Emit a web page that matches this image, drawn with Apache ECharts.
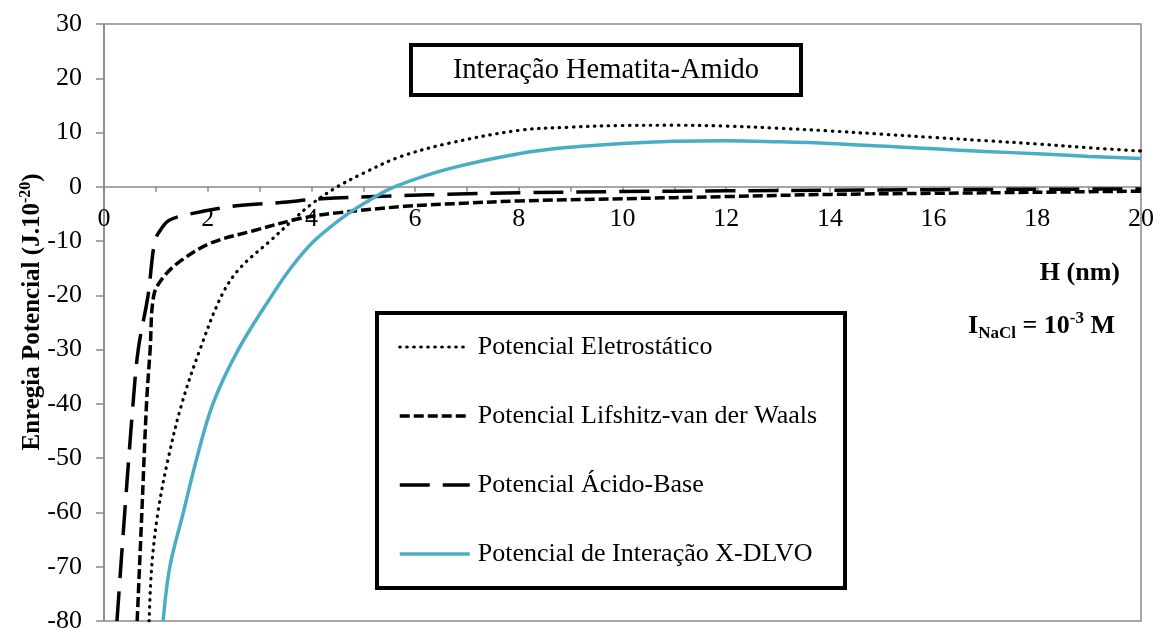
<!DOCTYPE html>
<html>
<head>
<meta charset="utf-8">
<script src="https://cdn.jsdelivr.net/npm/echarts@6/dist/echarts.min.js"></script>
<style>
html,body{margin:0;padding:0;background:#fff;}
#c{width:1158px;height:630px;}
</style>
</head>
<body>
<div id="c"></div>
<script>
// ---- data ----
const seriesNames = ['Potencial Eletrostático', 'Potencial Lifshitz-van der Waals', 'Potencial Ácido-Base', 'Potencial de Interação X-DLVO'];

const hEle = [0.87, 0.92, 1.04, 1.24, 1.5, 1.85, 2.27, 2.62, 3.2, 3.6, 4.0, 4.5, 5.0, 5.7, 6.64, 8, 9, 10, 11, 12, 13, 14, 15, 16, 17, 18, 19, 20];
const vEle = [-80, -70, -60, -50, -40, -30, -20, -15, -10, -6.5, -3.2, 0, 2.5, 5.5, 8.0, 10.4, 11.0, 11.3, 11.35, 11.2, 10.8, 10.3, 9.7, 9.1, 8.5, 7.9, 7.2, 6.6];

const hLW = [0.64, 0.73, 0.82, 0.89, 0.96, 1.14, 1.47, 2.05, 2.88, 3.8, 4.5, 5.8, 7, 8, 10, 12, 14, 16, 18, 20];
const vLW = [-80, -60, -40, -30, -20, -16.7, -13.7, -10.4, -8.1, -5.8, -4.8, -3.6, -3.0, -2.6, -2.2, -1.8, -1.4, -1.2, -1.0, -0.8];

const hAB = [0.25, 0.4, 0.56, 0.66, 0.85, 0.98, 1.1, 1.25, 1.66, 2.56, 3.4, 4.2, 5.5, 7, 8, 10, 12, 14, 16, 18, 20];
const vAB = [-80, -60, -40, -30, -20, -10, -7.8, -6.2, -5.0, -3.5, -2.9, -2.2, -1.7, -1.3, -1.1, -0.87, -0.74, -0.62, -0.52, -0.45, -0.4];

const hX = [1.14, 1.27, 1.53, 1.79, 2.1, 2.59, 3.24, 3.6, 4.05, 4.7, 5.2, 5.6, 6.64, 8, 9, 10, 11, 12, 13, 14, 15, 16, 17, 18, 19, 20];
const vX = [-80, -70, -60, -50, -40, -30, -20, -15, -10, -5, -2, 0, 3.3, 6.1, 7.3, 8.0, 8.4, 8.5, 8.3, 8.0, 7.5, 7.0, 6.5, 6.1, 5.6, 5.2];

const xMin = 0, xMax = 20, xStep = 1;
const yMin = -80, yMax = 30, yStep = 10;

const titleText = 'Interação Hematita-Amido';
const xName = 'H (nm)';
// ----------------------------------------

const pairs = (h, v) => h.map((x, i) => [x, v[i]]);
const FONT = '"Liberation Serif", "Times New Roman", serif';
const AXIS = '#898989';

const GRID = {left: 104, right: 17, top: 24, bottom: 9};
const H = 630;
const plotH = H - GRID.top - GRID.bottom;
// place the x axis where y = 0 (same as Excel's crossing), computed from the y scale
const zeroOffset = -plotH * (0 - yMin) / (yMax - yMin);

const chart = echarts.init(document.getElementById('c'), null, {renderer: 'canvas'});

const baseSeries = {
  type: 'line', symbol: 'none', smooth: 0.35, clip: true
};

chart.setOption({
  animation: false,
  backgroundColor: '#fff',
  textStyle: {fontFamily: FONT},
  grid: Object.assign({
    containLabel: false, outerBoundsMode: 'none',
    show: true, borderColor: AXIS, borderWidth: 1.5, backgroundColor: 'transparent'
  }, GRID),
  xAxis: {
    type: 'value', min: xMin, max: xMax, interval: xStep,
    position: 'bottom', offset: zeroOffset,
    axisLine: {onZero: false, lineStyle: {color: AXIS, width: 1.5}},
    axisTick: {show: true, length: 5, lineStyle: {color: AXIS, width: 1.5}},
    axisLabel: {
      color: '#000', fontFamily: FONT, fontSize: 26, margin: 19,
      formatter: v => (v % 2 === 0 ? String(v) : '')
    },
    splitLine: {show: false}
  },
  yAxis: {
    type: 'value', min: yMin, max: yMax, interval: yStep,
    axisLine: {show: true, onZero: false, lineStyle: {color: AXIS, width: 1.5}},
    axisTick: {show: true, length: 8, lineStyle: {color: AXIS, width: 1.5}},
    axisLabel: {color: '#000', fontFamily: FONT, fontSize: 26, margin: 22},
    splitLine: {show: false}
  },
  legend: {
    orient: 'vertical', left: 398, top: 332, padding: 0,
    itemWidth: 70, itemHeight: 14, itemGap: 39,
    itemStyle: {color: 'rgba(0,0,0,0)', borderColor: 'rgba(0,0,0,0)', borderWidth: 0, opacity: 0},
    lineStyle: {width: 'inherit'},
    textStyle: {fontFamily: FONT, fontSize: 26, color: '#000', lineHeight: 30, padding: [0, 0, 0, 3]},
    data: seriesNames
  },
  series: [
    Object.assign({}, baseSeries, {
      name: seriesNames[0], data: pairs(hEle, vEle),
      lineStyle: {color: '#000', width: 3.2, type: [0.5, 6.5], cap: 'round'},
      itemStyle: {color: '#000'}
    }),
    Object.assign({}, baseSeries, {
      name: seriesNames[1], data: pairs(hLW, vLW),
      lineStyle: {color: '#000', width: 3.5, type: [10, 4]},
      itemStyle: {color: '#000'}
    }),
    Object.assign({}, baseSeries, {
      name: seriesNames[2], data: pairs(hAB, vAB),
      lineStyle: {color: '#000', width: 3.5, type: [30, 13]},
      itemStyle: {color: '#000'}
    }),
    Object.assign({}, baseSeries, {
      name: seriesNames[3], data: pairs(hX, vX),
      lineStyle: {color: '#4BACC6', width: 3.5, type: 'solid'},
      itemStyle: {color: '#4BACC6'}
    })
  ],
  graphic: [
    {
      type: 'rect', shape: {x: 411, y: 45, width: 390, height: 50},
      style: {fill: '#fff', stroke: '#000', lineWidth: 4}, z: 50
    },
    {
      type: 'text', x: 606, y: 71, z: 51,
      style: {text: titleText, font: '28.5px ' + FONT, fill: '#000', align: 'center', verticalAlign: 'middle'}
    },
    {
      type: 'rect', shape: {x: 377, y: 313, width: 468, height: 275},
      style: {fill: 'rgba(255,255,255,0)', stroke: '#000', lineWidth: 4}, z: 50
    },
    {
      type: 'text', x: 1120, y: 273, z: 51,
      style: {text: xName, font: 'bold 26px ' + FONT, fill: '#000', align: 'right', verticalAlign: 'middle'}
    },
    {
      type: 'text', x: 1115, y: 326, z: 51,
      style: {
        text: '{m|I}{sub|NaCl}{m| = 10}{sup|-3}{m| M}',
        align: 'right', verticalAlign: 'middle',
        rich: {
          m: {font: 'bold 26px ' + FONT, fill: '#000', lineHeight: 32},
          sub: {font: 'bold 17px ' + FONT, fill: '#000', lineHeight: 18, verticalAlign: 'bottom'},
          sup: {font: 'bold 17px ' + FONT, fill: '#000', lineHeight: 18, verticalAlign: 'top'}
        }
      }
    },
    {
      type: 'text', x: 33, y: 312, rotation: Math.PI / 2, z: 51,
      style: {
        text: '{m|Enregia Potencial (J.10}{sup|-20}{m|)}',
        align: 'center', verticalAlign: 'middle',
        rich: {
          m: {font: 'bold 25px ' + FONT, fill: '#000', lineHeight: 30},
          sup: {font: 'bold 16px ' + FONT, fill: '#000', lineHeight: 18, verticalAlign: 'top'}
        }
      }
    }
  ]
});
</script>
</body>
</html>
